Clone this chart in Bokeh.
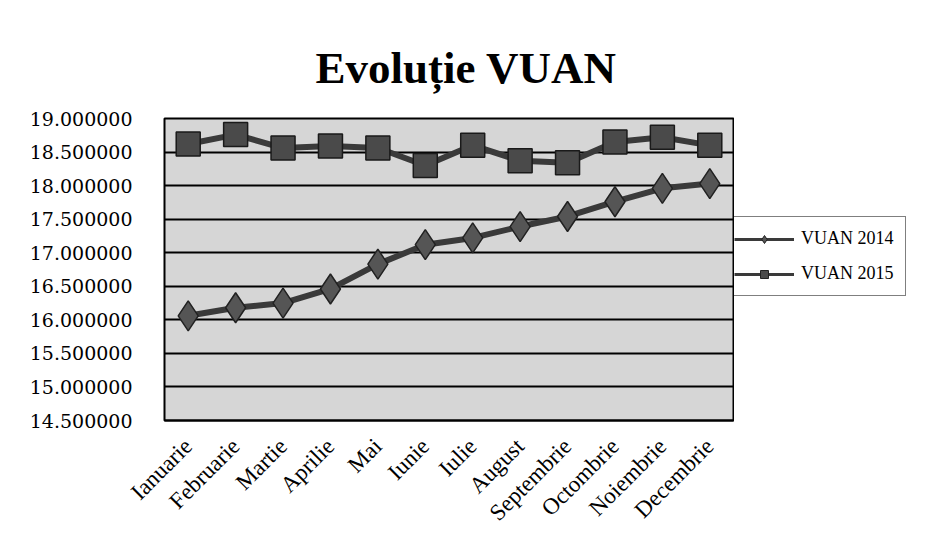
import math
from bokeh.plotting import figure
from bokeh.layouts import row
from bokeh.models import (ColumnDataSource, Legend, LegendItem, PrintfTickFormatter,
                          FixedTicker, Range1d, Title)
from bokeh.embed import file_html
from bokeh.resources import INLINE

months = ["Ianuarie", "Februarie", "Martie", "Aprilie", "Mai", "Iunie", "Iulie",
          "August", "Septembrie", "Octombrie", "Noiembrie", "Decembrie"]
vuan_2014 = [16.06, 16.18, 16.25, 16.46, 16.83, 17.12, 17.22, 17.39, 17.54, 17.76, 17.96, 18.03]
vuan_2015 = [18.62, 18.76, 18.56, 18.59, 18.56, 18.30, 18.60, 18.37, 18.34, 18.65, 18.72, 18.60]
y_ticks = [14.5, 15.0, 15.5, 16.0, 16.5, 17.0, 17.5, 18.0, 18.5, 19.0]

src = ColumnDataSource(dict(m=months, a=vuan_2014, b=vuan_2015))

H = 538
p = figure(width=734, height=H, x_range=months, y_range=Range1d(14.5, 19.0),
           output_backend="svg", toolbar_location=None,
           min_border_left=164, min_border_right=1, min_border_top=118,
           min_border_bottom=118)

p.background_fill_color = "#d6d6d6"
p.border_fill_color = "white"
p.outline_line_color = "black"
p.outline_line_width = 2

title = Title(text="Evoluție VUAN", align="left", text_font="Liberation Serif",
              text_font_size="45px", text_font_style="bold", text_color="black",
              offset=151, standoff=52)
p.add_layout(title, "above")

# grid
p.xgrid.grid_line_color = None
p.ygrid.ticker = FixedTicker(ticks=y_ticks)
p.ygrid.grid_line_color = "black"
p.ygrid.grid_line_width = 2

# y axis
p.yaxis.ticker = FixedTicker(ticks=y_ticks)
p.yaxis.formatter = PrintfTickFormatter(format="%.6f")
p.yaxis.axis_line_color = None
p.yaxis.major_tick_line_color = None
p.yaxis.minor_tick_line_color = None
p.yaxis.major_label_text_font = "DejaVu Serif"
p.yaxis.major_label_text_font_size = "19px"
p.yaxis.major_label_text_color = "black"
p.yaxis.major_label_standoff = 26

# x axis
p.xaxis.axis_line_color = "black"
p.xaxis.axis_line_width = 2
p.xaxis.major_tick_line_color = None
p.xaxis.minor_tick_line_color = None
p.xaxis.major_label_orientation = math.pi / 4
p.xaxis.major_label_text_font = "Liberation Serif"
p.xaxis.major_label_text_font_size = "23px"
p.xaxis.major_label_text_color = "black"
p.xaxis.major_label_standoff = 16

# series
p.line("m", "a", source=src, line_color="#3a3a3a", line_width=6)
p.scatter("m", "a", source=src, marker="diamond", size=30, fill_color="#555555",
          line_color="#222222", line_width=1.5)
p.line("m", "b", source=src, line_color="#3a3a3a", line_width=6)
p.scatter("m", "b", source=src, marker="square", size=24, fill_color="#4a4a4a",
          line_color="#1a1a1a", line_width=1.5)

# legend panel on the right (separate figure so the key can sit outside the plot area)
q = figure(width=190, height=H, x_range=months, y_range=Range1d(14.5, 19.0),
           output_backend="svg", toolbar_location=None,
           x_axis_location=None, y_axis_location=None,
           min_border_left=0, min_border_right=0, min_border_top=0, min_border_bottom=0)
q.outline_line_color = None
q.background_fill_color = "white"
q.border_fill_color = "white"
q.grid.visible = False

la = q.line("m", "a", source=src, line_color="#3a3a3a", line_width=3, visible=False)
sa = q.scatter("m", "a", source=src, marker="diamond", size=9, fill_color="#555555",
               line_color="#222222", visible=False)
lb = q.line("m", "b", source=src, line_color="#3a3a3a", line_width=3, visible=False)
sb = q.scatter("m", "b", source=src, marker="square", size=8, fill_color="#4a4a4a",
               line_color="#222222", visible=False)

legend = Legend(items=[LegendItem(label="VUAN 2014", renderers=[la, sa]),
                       LegendItem(label="VUAN 2015", renderers=[lb, sb])],
                location=(-12, 124), orientation="vertical",
                label_text_font="Liberation Serif", label_text_font_size="18px",
                label_text_color="black", glyph_width=60, glyph_height=20,
                label_height=20, spacing=14, padding=11, margin=0,
                label_standoff=7, border_line_color="black", border_line_width=1.5,
                background_fill_color="white", background_fill_alpha=1.0)
q.add_layout(legend, "center")

layout = row(p, q, spacing=0)
open("out.html", "w").write(file_html(layout, INLINE))
